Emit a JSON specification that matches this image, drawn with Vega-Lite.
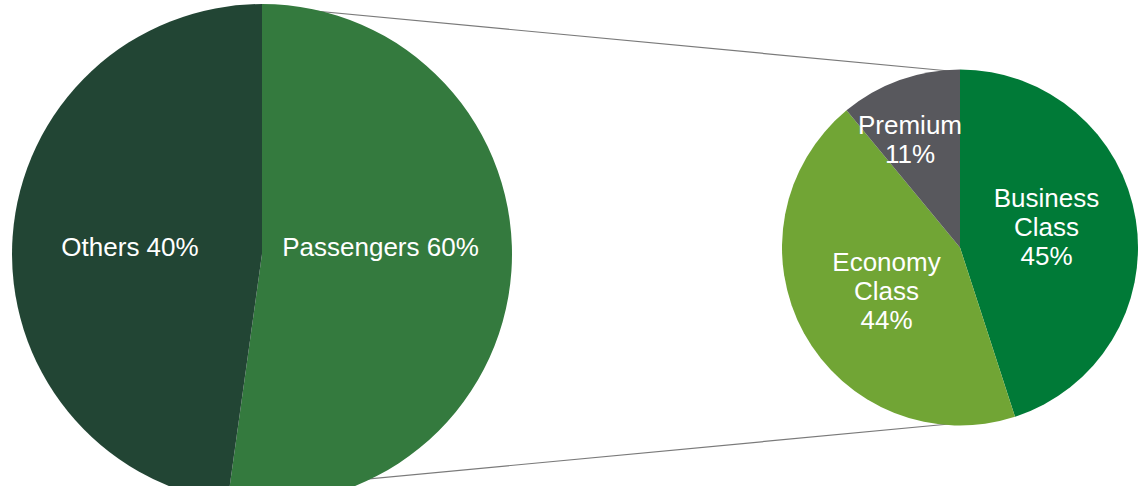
{
  "$schema": "https://vega.github.io/schema/vega-lite/v6.json",
  "width": 1138,
  "height": 486,
  "autosize": {"type": "none"},
  "padding": 0,
  "background": "white",
  "config": {"view": {"stroke": null}},
  "datasets": {
    "overall": [
      {"segment": "Passengers", "share": 52.2, "label": "Passengers 60%"},
      {"segment": "Others", "share": 47.8, "label": "Others 40%"}
    ],
    "passengers": [
      {"segment": "Business Class", "share": 45, "label": "Business\nClass\n45%"},
      {"segment": "Economy Class", "share": 44, "label": "Economy\nClass\n44%"},
      {"segment": "Premium", "share": 11, "label": "Premium\n11%"}
    ],
    "connectors": [
      {"x": 262, "y": 6, "x2": 960, "y2": 72},
      {"x": 262, "y": 489, "x2": 960, "y2": 423}
    ]
  },
  "resolve": {"scale": {"theta": "independent"}},
  "layer": [
    {
      "data": {"name": "connectors"},
      "mark": {"type": "rule", "color": "#7a7a7a", "strokeWidth": 1.2},
      "encoding": {
        "x": {"field": "x", "type": "quantitative", "scale": {"domain": [0, 1138], "nice": false, "zero": false}, "axis": null},
        "y": {"field": "y", "type": "quantitative", "scale": {"domain": [0, 486], "reverse": true, "nice": false, "zero": false}, "axis": null},
        "x2": {"field": "x2"},
        "y2": {"field": "y2"}
      }
    },
    {
      "data": {"name": "overall"},
      "mark": {"type": "arc", "radius": 250},
      "encoding": {
        "x": {"datum": 262, "type": "quantitative"},
        "y": {"datum": 254, "type": "quantitative"},
        "theta": {"field": "share", "type": "quantitative", "stack": true},
        "order": {"field": "segment", "sort": "descending"},
        "color": {
          "field": "segment", "type": "nominal", "legend": null,
          "scale": {"domain": ["Passengers", "Others", "Business Class", "Economy Class", "Premium"],
                    "range": ["#347a3e", "#224534", "#007a37", "#71a535", "#58585d"]}
        }
      }
    },
    {
      "data": {"name": "passengers"},
      "mark": {"type": "arc", "radius": 178},
      "encoding": {
        "x": {"datum": 960, "type": "quantitative"},
        "y": {"datum": 247.5, "type": "quantitative"},
        "theta": {"field": "share", "type": "quantitative", "stack": true},
        "order": {"field": "segment", "sort": "ascending"},
        "color": {
          "field": "segment", "type": "nominal", "legend": null,
          "scale": {"domain": ["Passengers", "Others", "Business Class", "Economy Class", "Premium"],
                    "range": ["#347a3e", "#224534", "#007a37", "#71a535", "#58585d"]}
        }
      }
    },
    {
      "data": {"name": "overall"},
      "transform": [{"filter": "datum.segment === 'Others'"}],
      "mark": {"type": "text", "fill": "white", "font": "Liberation Sans", "fontSize": 26, "align": "center", "baseline": "middle", "lineBreak": "\n", "lineHeight": 29},
      "encoding": {
        "x": {"datum": 130, "type": "quantitative"},
        "y": {"datum": 248, "type": "quantitative"},
        "text": {"field": "label"}
      }
    },
    {
      "data": {"name": "overall"},
      "transform": [{"filter": "datum.segment === 'Passengers'"}],
      "mark": {"type": "text", "fill": "white", "font": "Liberation Sans", "fontSize": 26, "align": "center", "baseline": "middle", "lineBreak": "\n", "lineHeight": 29},
      "encoding": {
        "x": {"datum": 380.5, "type": "quantitative"},
        "y": {"datum": 248, "type": "quantitative"},
        "text": {"field": "label"}
      }
    },
    {
      "data": {"name": "passengers"},
      "transform": [{"filter": "datum.segment === 'Business Class'"}],
      "mark": {"type": "text", "fill": "white", "font": "Liberation Sans", "fontSize": 26, "align": "center", "baseline": "middle", "lineBreak": "\n", "lineHeight": 29},
      "encoding": {
        "x": {"datum": 1046.5, "type": "quantitative"},
        "y": {"datum": 198.5, "type": "quantitative"},
        "text": {"field": "label"}
      }
    },
    {
      "data": {"name": "passengers"},
      "transform": [{"filter": "datum.segment === 'Economy Class'"}],
      "mark": {"type": "text", "fill": "white", "font": "Liberation Sans", "fontSize": 26, "align": "center", "baseline": "middle", "lineBreak": "\n", "lineHeight": 29},
      "encoding": {
        "x": {"datum": 886.5, "type": "quantitative"},
        "y": {"datum": 262.5, "type": "quantitative"},
        "text": {"field": "label"}
      }
    },
    {
      "data": {"name": "passengers"},
      "transform": [{"filter": "datum.segment === 'Premium'"}],
      "mark": {"type": "text", "fill": "white", "font": "Liberation Sans", "fontSize": 26, "align": "center", "baseline": "middle", "lineBreak": "\n", "lineHeight": 29},
      "encoding": {
        "x": {"datum": 910, "type": "quantitative"},
        "y": {"datum": 126, "type": "quantitative"},
        "text": {"field": "label"}
      }
    }
  ]
}
